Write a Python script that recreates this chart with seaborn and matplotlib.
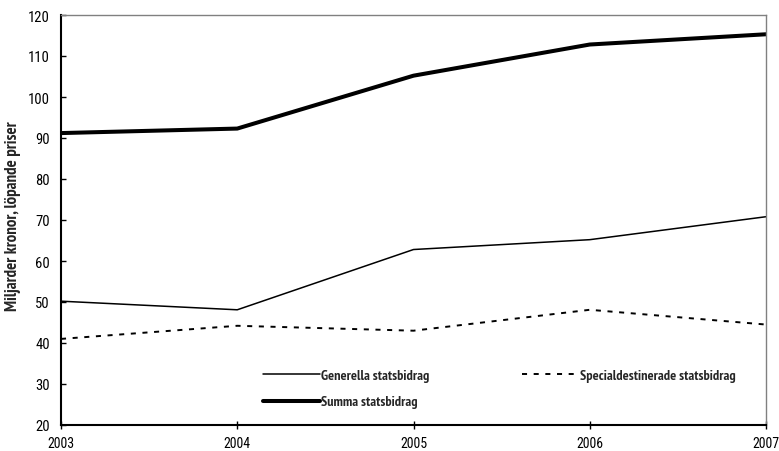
import matplotlib
matplotlib.use("Agg")
import matplotlib.pyplot as plt
import seaborn as sns
import pandas as pd

years = [2003, 2004, 2005, 2006, 2007]
generella = [50.2, 48.1, 62.8, 65.2, 70.8]
special = [41.0, 44.2, 43.0, 48.1, 44.5]
summa = [91.2, 92.3, 105.2, 112.8, 115.3]

series_names = ["Generella statsbidrag", "Summa statsbidrag", "Specialdestinerade statsbidrag"]
series_values = [generella, summa, special]

rows = []
for name, vals in zip(series_names, series_values):
    for y, v in zip(years, vals):
        rows.append({"År": y, "Värde": v, "Serie": name})
df = pd.DataFrame(rows)

sns.set_theme(style="white")
FONT = ["Roboto Condensed", "DejaVu Sans"]
BOLD_FONT = ["PT Sans Narrow", "DejaVu Sans"]
plt.rcParams["font.family"] = FONT

fig = plt.figure(figsize=(7.79, 4.52), dpi=100)
ax = fig.add_axes([61 / 779, 1 - 426 / 452, (766 - 61) / 779, (426 - 16) / 452])

styles = {
    "Generella statsbidrag": dict(lw=1.1, ls="-"),
    "Summa statsbidrag": dict(lw=2.9, ls="-"),
    "Specialdestinerade statsbidrag": dict(lw=1.4, ls=(0, (2.6, 3.4))),
}
for name in series_names:
    sns.lineplot(data=df[df["Serie"] == name], x="År", y="Värde", ax=ax,
                 color="black", linewidth=styles[name]["lw"],
                 linestyle=styles[name]["ls"], label=name)

ax.set_xlim(2003, 2007)
ax.set_ylim(20, 120)
ax.set_xticks(years)
ax.set_yticks(range(20, 121, 10))
ax.set_xlabel("")
ax.set_ylabel("Miljarder kronor, löpande priser", fontsize=12.2, fontweight="bold",
              family=BOLD_FONT)
ax.yaxis.set_label_coords(-0.0567, 0.512)

ax.tick_params(axis="y", direction="in", length=3.5, width=1, labelsize=10.5,
               colors="black", pad=8)
ax.tick_params(axis="x", direction="inout", length=6, width=1, labelsize=10,
               colors="black", pad=5)
ax.tick_params(left=True, bottom=True)

for side in ["left", "bottom"]:
    ax.spines[side].set_color("black")
    ax.spines[side].set_linewidth(1.5)
for side in ["top", "right"]:
    ax.spines[side].set_color("#808080")
    ax.spines[side].set_linewidth(1.0)

leg = ax.legend(ncol=2, frameon=False, loc="upper left",
                bbox_to_anchor=(263 / 779, 1 - 370 / 452),
                bbox_transform=fig.transFigure, borderpad=0, borderaxespad=0,
                handlelength=4.0, columnspacing=6.5, labelspacing=0.95,
                handletextpad=0.1,
                prop={"family": BOLD_FONT, "weight": "bold", "size": 10.2})

fig.savefig("out.png", dpi=100)
